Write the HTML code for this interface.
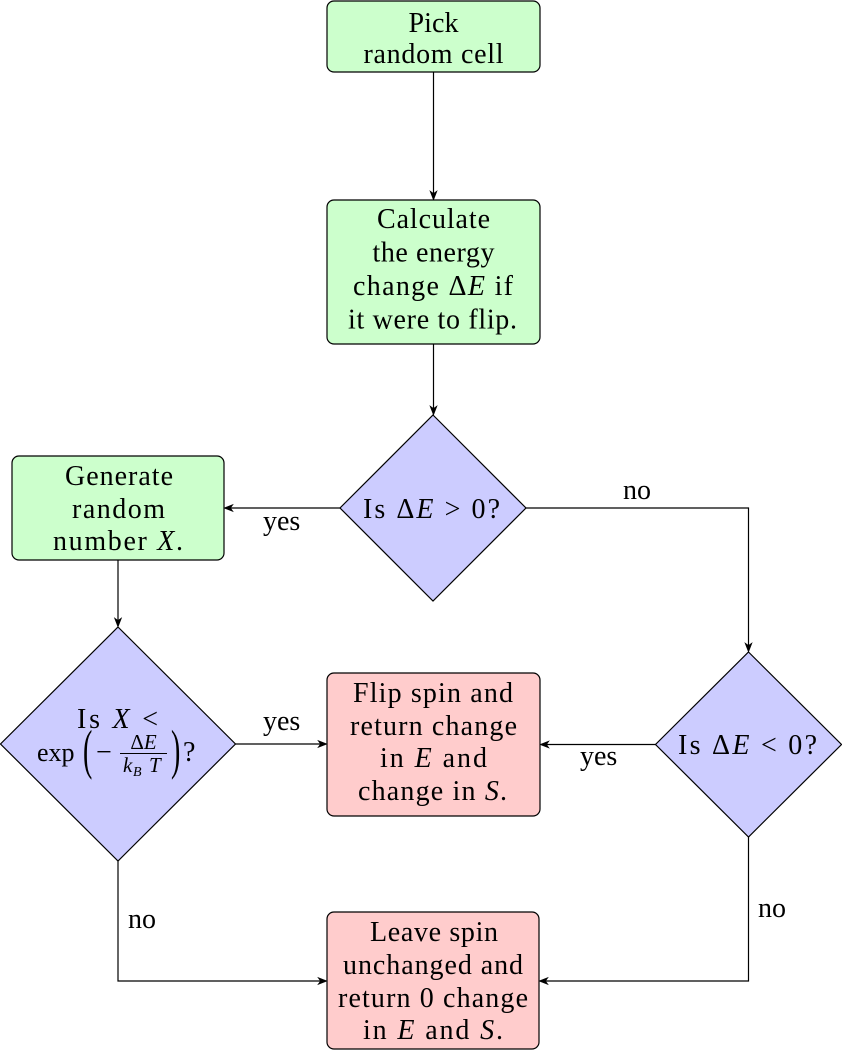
<!DOCTYPE html>
<html>
<head>
<meta charset="utf-8">
<style>
  html, body { margin: 0; padding: 0; background: #ffffff; }
  body { width: 842px; height: 1050px; overflow: hidden; font-family: "Liberation Serif", "DejaVu Serif", "Noto Serif CJK SC", serif; }
  svg { display: block; }
  svg text { font-family: "Liberation Serif", "DejaVu Serif", "Noto Serif CJK SC", serif; font-size: 28px; fill: #000; }
  .it { font-style: italic; }
</style>
</head>
<body>
<svg width="842" height="1050" viewBox="0 0 842 1050" xmlns="http://www.w3.org/2000/svg">
  <!-- ============ Connectors ============ -->
  <g stroke="#000" stroke-width="1.2" fill="none">
    <line x1="433.5" y1="72" x2="433.5" y2="194"/>
    <line x1="433.5" y1="344" x2="433.5" y2="409"/>
    <line x1="340" y1="508" x2="230" y2="508"/>
    <polyline points="526,508 748.5,508 748.5,646"/>
    <line x1="118" y1="560" x2="118" y2="621"/>
    <line x1="235.5" y1="744" x2="321" y2="744"/>
    <line x1="655.5" y1="744.5" x2="546" y2="744.5"/>
    <polyline points="118,861 118,981 321,981"/>
    <polyline points="748.5,837 748.5,981 545,981"/>
  </g>
  <!-- arrowheads -->
  <g fill="#000" stroke="#000" stroke-width="0.6" stroke-linejoin="miter">
    <path d="M433.5 200 L430 191 L433.5 193.5 L437 191 Z"/>
    <path d="M433.5 415 L430 406 L433.5 408.5 L437 406 Z"/>
    <path d="M748.5 652 L745 643 L748.5 645.5 L752 643 Z"/>
    <path d="M118 627 L114.5 618 L118 620.5 L121.5 618 Z"/>
    <path d="M224 508 L233 504.5 L230.5 508 L233 511.5 Z"/>
    <path d="M540 744.5 L549 741 L546.5 744.5 L549 748 Z"/>
    <path d="M539 981 L548 977.5 L545.5 981 L548 984.5 Z"/>
    <path d="M327 744 L318 740.5 L320.5 744 L318 747.5 Z"/>
    <path d="M327 981 L318 977.5 L320.5 981 L318 984.5 Z"/>
  </g>

  <!-- ============ Boxes ============ -->
  <g stroke="#000" stroke-width="1.2">
    <rect x="327" y="1" width="213" height="71" rx="7" ry="7" fill="#ccffcc"/>
    <rect x="327" y="200" width="213" height="144" rx="7" ry="7" fill="#ccffcc"/>
    <rect x="12" y="456" width="212" height="104" rx="7" ry="7" fill="#ccffcc"/>
    <rect x="327" y="673" width="213" height="143" rx="7" ry="7" fill="#ffcccc"/>
    <rect x="327" y="912" width="212" height="137" rx="7" ry="7" fill="#ffcccc"/>
    <polygon points="433,415 526,508 433,601 340,508" fill="#ccccff"/>
    <polygon points="748.5,652 841.5,744.5 748.5,837 655.5,744.5" fill="#ccccff"/>
    <polygon points="118,627 235.5,744 118,861 0.5,744" fill="#ccccff"/>
  </g>

  <!-- ============ Box texts ============ -->
  <g text-anchor="middle">
    <text x="433.5" y="32" textLength="50" lengthAdjust="spacing">Pick</text>
    <text x="433.5" y="63" textLength="140" lengthAdjust="spacing">random cell</text>

    <text x="433.5" y="228" textLength="113" lengthAdjust="spacing">Calculate</text>
    <text x="433.5" y="261.5" textLength="122" lengthAdjust="spacing">the energy</text>
    <text x="433" y="295" textLength="160" lengthAdjust="spacing">change Δ<tspan class="it">E</tspan> if</text>
    <text x="432.5" y="328.5" textLength="169" lengthAdjust="spacing">it were to flip.</text>

    <text x="119" y="485" textLength="108" lengthAdjust="spacing">Generate</text>
    <text x="118.5" y="518" textLength="93" lengthAdjust="spacing">random</text>
    <text x="118" y="550" textLength="130" lengthAdjust="spacing">number <tspan class="it">X</tspan>.</text>

    <text x="433" y="702" textLength="160" lengthAdjust="spacing">Flip spin and</text>
    <text x="433.5" y="735" textLength="167" lengthAdjust="spacing">return change</text>
    <text x="433.5" y="767" textLength="107" lengthAdjust="spacing">in <tspan class="it">E</tspan> and</text>
    <text x="432.5" y="800" textLength="149" lengthAdjust="spacing">change in <tspan class="it">S</tspan>.</text>

    <text x="434" y="941" textLength="128" lengthAdjust="spacing">Leave spin</text>
    <text x="433" y="974" textLength="180" lengthAdjust="spacing">unchanged and</text>
    <text x="433" y="1007" textLength="190" lengthAdjust="spacing">return 0 change</text>
    <text x="433" y="1039" textLength="140" lengthAdjust="spacing">in <tspan class="it">E</tspan> and <tspan class="it">S</tspan>.</text>

    <text x="431.5" y="518" textLength="137" lengthAdjust="spacing">Is Δ<tspan class="it">E</tspan> &gt; 0?</text>
    <text x="747.5" y="754" textLength="139" lengthAdjust="spacing">Is Δ<tspan class="it">E</tspan> &lt; 0?</text>
    <text x="117.5" y="728" textLength="81" lengthAdjust="spacing">Is <tspan class="it">X</tspan> &lt;</text>
  </g>

  <!-- exp(-ΔE / k_B T)? -->
  <text x="37" y="761" style="font-size:26px">exp</text>
  <text transform="translate(83,768) scale(1,1.96)" style="font-size:28px">(</text>
  <text x="96" y="761">−</text>
  <line x1="120" y1="753.5" x2="167" y2="753.5" stroke="#000" stroke-width="1"/>
  <text x="143.5" y="749" text-anchor="middle" style="font-size:21px">Δ<tspan class="it">E</tspan></text>
  <text x="123" y="772" class="it" style="font-size:21px">k</text>
  <text x="133" y="776" class="it" style="font-size:14px">B</text>
  <text x="149" y="772" class="it" style="font-size:21px">T</text>
  <text transform="translate(171,768) scale(1,1.96)" style="font-size:28px">)</text>
  <text x="183" y="761">?</text>

  <!-- ============ Edge labels ============ -->
  <text x="623" y="499">no</text>
  <text x="263" y="530">yes</text>
  <text x="263" y="730">yes</text>
  <text x="580" y="765">yes</text>
  <text x="128" y="928">no</text>
  <text x="758" y="917">no</text>
</svg>
</body>
</html>
